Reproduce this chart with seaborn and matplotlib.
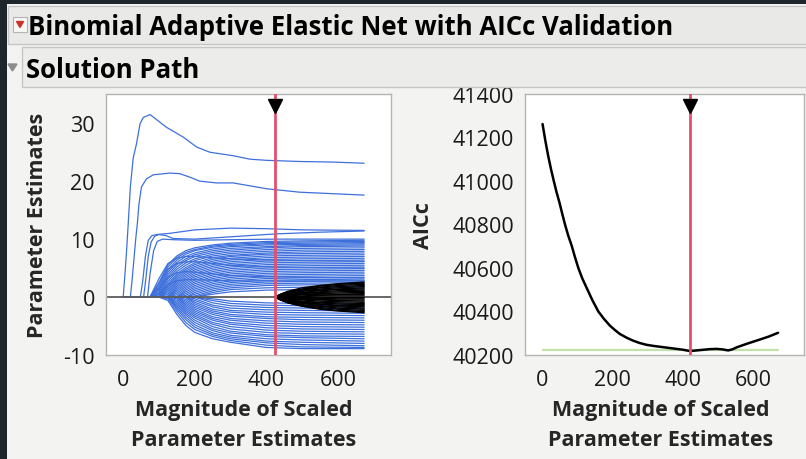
import numpy as np
import pandas as pd
import matplotlib
matplotlib.use("Agg")
import matplotlib.pyplot as plt
from matplotlib.patches import Rectangle, Polygon
import seaborn as sns

# ------------------------------------------------------------------
# Data (solution path + AICc curve)
# ------------------------------------------------------------------
# the few early-entering terms, each on its own x grid
LEAD_X = [
    [0, 5, 10, 14, 20, 28, 37, 47, 56, 75, 121, 168, 205, 242, 307, 354, 400, 493, 586, 673],
    [20, 25, 30, 35, 40, 44, 51, 65, 84, 130, 158, 186, 214, 261, 307, 354, 400, 493, 673],
    [48, 55, 62, 70, 80, 95, 130, 200, 300, 400, 500, 673],
    [57, 63, 70, 78, 88, 100, 120, 140, 200, 300, 425, 550, 673],
    [68, 75, 85, 95, 110, 140, 200, 300, 425, 550, 673],
]
LEAD_Y = [
    [0, 4, 8.5, 12.6, 19, 24, 26.4, 29.9, 31.0, 31.5, 29.3, 27.6, 25.9, 25.0, 24.4, 23.8, 23.6, 23.4, 23.3, 23.1],
    [0, 3, 6.5, 10, 13, 16, 19, 20.4, 21.1, 21.4, 21.3, 20.7, 20.0, 19.7, 19.7, 19.2, 18.7, 18.1, 17.6],
    [0, 3, 7, 9.8, 10.6, 10.8, 11.0, 11.6, 11.9, 11.8, 11.6, 11.5],
    [0, 3, 7, 9.5, 10.5, 10.8, 10.6, 10.1, 10.0, 10.4, 10.9, 11.2, 11.4],
    [0, 4, 8, 9.6, 10.0, 9.9, 9.8, 9.9, 10.0, 10.0, 10.0],
]

# the main bundle of blue paths, shared x grid
BUNDLE_X = [0, 75, 100, 125, 150, 175, 200, 250, 300, 400, 500, 673]
BLUE_POS = [
    [0, 0, 2.5, 5.6, 7.1, 8.0, 8.5, 9.0, 9.3, 9.6, 9.7, 9.8],
    [0, 0, 2.2, 5.2, 6.8, 7.7, 8.2, 8.8, 9.1, 9.4, 9.5, 9.6],
    [0, 0, 1.8, 4.7, 6.4, 7.4, 8.0, 8.6, 8.9, 9.2, 9.3, 9.4],
    [0, 0, 1.5, 4.3, 6.0, 7.0, 7.6, 8.3, 8.7, 9.0, 9.1, 9.2],
    [0, 0, 1.2, 3.9, 5.6, 6.6, 7.3, 8.0, 8.4, 8.7, 8.9, 9.0],
    [0, 0, 0.9, 3.5, 5.2, 6.3, 7.0, 7.7, 8.1, 8.5, 8.7, 8.8],
    [0, 0, 0.6, 3.1, 4.8, 5.9, 6.6, 7.4, 7.8, 8.2, 8.4, 8.5],
    [0, 0, 0.4, 2.7, 4.4, 5.5, 6.3, 7.1, 7.5, 7.9, 8.1, 8.2],
    [0, 0, 0.2, 2.3, 4.0, 5.1, 5.9, 6.8, 7.2, 7.6, 7.8, 7.9],
    [0, 0, 0, 2.0, 3.7, 4.8, 5.6, 6.5, 7.0, 7.4, 7.5, 7.6],
    [0, 0, 0, 1.7, 3.4, 4.5, 5.3, 6.2, 6.7, 7.1, 7.2, 7.3],
    [0, 0, 0, 1.4, 3.1, 4.2, 5.0, 5.9, 6.4, 6.8, 6.9, 7.0],
    [0, 0, 0, 1.1, 2.8, 3.9, 4.7, 5.6, 6.1, 6.5, 6.6, 6.7],
    [0, 0, 0, 0.8, 2.5, 3.6, 4.4, 5.3, 5.8, 6.2, 6.3, 6.4],
    [0, 0, 0, 0.5, 2.2, 3.3, 4.1, 5.0, 5.5, 5.9, 6.0, 6.1],
    [0, 0, 0, 0.2, 1.9, 3.0, 3.8, 4.7, 5.2, 5.6, 5.7, 5.8],
    [0, 0, 0, 0, 1.6, 2.7, 3.5, 4.4, 4.9, 5.3, 5.4, 5.5],
    [0, 0, 0, 0, 1.3, 2.4, 3.2, 4.1, 4.6, 5.0, 5.1, 5.2],
    [0, 0, 0, 0, 1.0, 2.1, 2.9, 3.8, 4.3, 4.7, 4.8, 4.9],
    [0, 0, 0, 0, 0.7, 1.8, 2.6, 3.5, 4.0, 4.4, 4.5, 4.6],
    [0, 0, 0, 0, 0.4, 1.5, 2.3, 3.2, 3.7, 4.1, 4.2, 4.3],
    [0, 0, 0, 0, 0.1, 1.2, 2.0, 2.9, 3.4, 3.8, 3.9, 4.0],
    [0, 0, 0, 0, 0, 0.9, 1.7, 2.6, 3.1, 3.5, 3.6, 3.7],
    [0, 0, 0, 0, 0, 0.6, 1.4, 2.3, 2.8, 3.2, 3.3, 3.4],
    [0, 0, 0, 0, 0, 0.3, 1.1, 2.0, 2.5, 2.9, 3.0, 3.1],
    [0, 0, 0, 0, 0, 0, 0.8, 1.7, 2.2, 2.6, 2.7, 2.8],
    [0, 0, 0, 0, 0, 0, 0.5, 1.4, 1.9, 2.3, 2.4, 2.5],
    [0, 0, 0, 0, 0, 0, 0.2, 1.1, 1.6, 2.0, 2.1, 2.2],
    [0, 0, 0, 0, 0, 0, 0, 0.8, 1.3, 1.6, 1.7, 1.8],
    [0, 0, 0, 0, 0, 0, 0, 0.5, 0.9, 1.2, 1.3, 1.4],
    [0, 0, 3.2, 5.8, 6.7, 7.0, 7.0, 6.8, 6.6, 6.4, 6.3, 6.2],
    [0, 0, 2.4, 4.8, 5.8, 6.1, 6.1, 5.8, 5.5, 5.2, 5.1, 5.0],
    [0, 0, 1.5, 3.4, 4.2, 4.4, 4.3, 4.0, 3.7, 3.5, 3.4, 3.3],
    [0, 0, 0.6, 2.2, 2.8, 3.0, 3.0, 2.9, 2.8, 2.8, 2.8, 2.8],
]
BLUE_NEG = [
    [0, 0, 0, -0.6, -3.0, -4.9, -6.1, -7.2, -7.8, -8.7, -8.9, -8.9],
    [0, 0, 0, -0.3, -2.5, -4.4, -5.6, -6.8, -7.5, -8.3, -8.6, -8.7],
    [0, 0, 0, 0, -2.1, -3.9, -5.2, -6.5, -7.2, -7.9, -8.2, -8.4],
    [0, 0, 0, 0, -1.8, -3.5, -4.8, -6.2, -6.9, -7.6, -7.8, -8.0],
    [0, 0, 0, 0, -1.5, -3.1, -4.4, -5.8, -6.6, -7.2, -7.4, -7.6],
    [0, 0, 0, 0, -1.2, -2.8, -4.0, -5.5, -6.2, -6.8, -7.0, -7.2],
    [0, 0, 0, 0, -0.9, -2.5, -3.6, -5.1, -5.9, -6.5, -6.7, -6.8],
    [0, 0, 0, 0, -0.6, -2.2, -3.3, -4.7, -5.5, -6.1, -6.3, -6.4],
    [0, 0, 0, 0, -0.3, -1.9, -3.0, -4.4, -5.1, -5.7, -5.9, -6.0],
    [0, 0, 0, 0, 0, -1.6, -2.7, -4.0, -4.7, -5.3, -5.5, -5.6],
    [0, 0, 0, 0, 0, -1.3, -2.4, -3.7, -4.4, -4.9, -5.1, -5.2],
    [0, 0, 0, 0, 0, -1.0, -2.1, -3.4, -4.0, -4.5, -4.7, -4.8],
    [0, 0, 0, 0, 0, -0.7, -1.8, -3.0, -3.7, -4.1, -4.3, -4.4],
    [0, 0, 0, 0, 0, -0.4, -1.5, -2.7, -3.3, -3.7, -3.9, -4.0],
    [0, 0, 0, 0, 0, -0.1, -1.2, -2.4, -3.0, -3.4, -3.5, -3.6],
    [0, 0, 0, 0, 0, 0, -0.9, -2.1, -2.6, -3.0, -3.1, -3.2],
    [0, 0, 0, 0, 0, 0, -0.6, -1.7, -2.3, -2.6, -2.7, -2.8],
    [0, 0, 0, 0, 0, 0, -0.3, -1.4, -1.9, -2.2, -2.3, -2.4],
    [0, 0, 0, 0, 0, 0, 0, -1.0, -1.5, -1.8, -1.9, -2.0],
    [0, 0, 0, 0, 0, 0, 0, -0.6, -1.1, -1.4, -1.5, -1.6],
    [0, 0, 0, 0, 0, 0, 0, -0.3, -0.7, -1.0, -1.1, -1.2],
]

# terms that are zero in the chosen model (black fan right of the red line)
BLACK_X = [424, 440, 460, 500, 550, 600, 673]
BLACK_PATHS = [
    [0, 0.5, 1.0, 1.6, 2.0, 2.3, 2.6],
    [0, 0.5, 0.9, 1.4, 1.9, 2.2, 2.4],
    [0, 0.4, 0.8, 1.3, 1.7, 2.0, 2.2],
    [0, 0.4, 0.8, 1.2, 1.6, 1.8, 2.0],
    [0, 0.4, 0.7, 1.1, 1.4, 1.6, 1.8],
    [0, 0.3, 0.6, 1.0, 1.2, 1.4, 1.6],
    [0, 0.3, 0.5, 0.8, 1.1, 1.3, 1.4],
    [0, 0.2, 0.5, 0.7, 0.9, 1.1, 1.2],
    [0, 0.2, 0.4, 0.6, 0.8, 0.9, 1.0],
    [0, 0.2, 0.3, 0.5, 0.6, 0.7, 0.8],
    [0, 0.1, 0.2, 0.4, 0.5, 0.5, 0.6],
    [0, 0.1, 0.2, 0.2, 0.3, 0.4, 0.4],
    [0, 0.0, 0.1, 0.1, 0.2, 0.2, 0.2],
    [0, 0, 0, -0.1, -0.1, -0.1, -0.1],
    [0, -0.1, -0.1, -0.2, -0.2, -0.3, -0.3],
    [0, -0.1, -0.2, -0.3, -0.4, -0.5, -0.5],
    [0, -0.1, -0.3, -0.4, -0.5, -0.6, -0.7],
    [0, -0.2, -0.3, -0.5, -0.7, -0.8, -0.9],
    [0, -0.2, -0.4, -0.7, -0.9, -1.0, -1.1],
    [0, -0.3, -0.5, -0.8, -1.0, -1.2, -1.3],
    [0, -0.3, -0.6, -0.9, -1.2, -1.4, -1.5],
    [0, -0.3, -0.6, -1.0, -1.3, -1.5, -1.7],
    [0, -0.4, -0.7, -1.1, -1.5, -1.7, -1.9],
    [0, -0.4, -0.8, -1.3, -1.6, -1.9, -2.1],
    [0, -0.5, -0.9, -1.4, -1.8, -2.1, -2.3],
    [0, -0.5, -1.0, -1.5, -2.0, -2.3, -2.5],
    [0, -0.5, -1.0, -1.6, -2.1, -2.4, -2.7],
]

AICC_X = [0, 8, 16, 24, 32, 40, 48, 56, 64, 73, 83, 92, 102, 113, 125, 142, 159,
          175, 192, 206, 220, 239, 258, 277, 296, 315, 334, 358, 382, 401, 420,
          439, 458, 477, 496, 512, 529, 541, 553, 567, 581, 600, 619, 645, 671]
AICC_Y = [41262, 41185, 41116, 41055, 41000, 40948, 40902, 40850, 40800, 40750,
          40703, 40652, 40600, 40553, 40511, 40452, 40400, 40366, 40335, 40315,
          40297, 40280, 40266, 40255, 40247, 40242, 40238, 40233, 40228, 40224,
          40218, 40221, 40224, 40227, 40228, 40226, 40221, 40226, 40235, 40243,
          40251, 40261, 40271, 40285, 40302]
AICC_MIN_BAND = 40224
SELECTED_LEFT = 424
SELECTED_RIGHT = 420

TITLE = "Binomial Adaptive Elastic Net with AICc Validation"
SUBTITLE = "Solution Path"
XLABEL = "Magnitude of Scaled\nParameter Estimates"

BLUE = "#3e70dc"
RED = "#e2506b"
SPINE = "#b4b4b4"

# ------------------------------------------------------------------
W, H = 806, 460
def fx(px):
    return px / W
def fy(py):
    return 1 - py / H

def long_frame(xs, paths, tag):
    return pd.concat([pd.DataFrame({"x": xs, "y": p, "path": f"{tag}{i}"})
                      for i, p in enumerate(paths)], ignore_index=True)

sns.set_style("white")
plt.rcParams["font.family"] = ["Open Sans", "DejaVu Sans"]

blue_df = pd.concat(
    [long_frame(BUNDLE_X, BLUE_POS, "p"), long_frame(BUNDLE_X, BLUE_NEG, "n")]
    + [pd.DataFrame({"x": x, "y": y, "path": f"lead{i}"})
       for i, (x, y) in enumerate(zip(LEAD_X, LEAD_Y))],
    ignore_index=True)
black_df = long_frame(BLACK_X, BLACK_PATHS, "b")
aicc_df = pd.DataFrame({"x": AICC_X, "y": AICC_Y})

fig = plt.figure(figsize=(W / 100, H / 100), dpi=100)
fig.patch.set_facecolor("#f3f3f1")

ax1 = fig.add_axes([fx(106), fy(356), (391 - 106) / W, (356 - 95) / H])
ax2 = fig.add_axes([fx(525), fy(356), (804 - 525) / W, (356 - 95) / H])

# ---- left: parameter paths ----
sns.lineplot(data=blue_df, x="x", y="y", units="path", estimator=None,
             color=BLUE, lw=0.9, ax=ax1, zorder=2)
ax1.axhline(0, color="#5c5c5c", lw=1.3, zorder=2.5)
sns.lineplot(data=black_df, x="x", y="y", units="path", estimator=None,
             color="black", lw=1.0, ax=ax1, zorder=3)
ax1.axvline(SELECTED_LEFT, color=RED, lw=2.0, zorder=4)
ax1.plot(SELECTED_LEFT, 33.0, marker="v", color="black", ms=10, zorder=5, clip_on=False)

ax1.set_xlim(-48, 748)
ax1.set_ylim(-10, 35.05)
ax1.set_xticks(range(0, 701, 100))
ax1.set_xticklabels(["0", "", "200", "", "400", "", "600", ""])
ax1.set_yticks(range(-10, 31, 5))
ax1.set_yticklabels(["-10", "", "0", "", "10", "", "20", "", "30"])
ax1.set_ylabel("Parameter Estimates", fontsize=15.5, fontweight="bold")
ax1.yaxis.set_label_coords((48 - 106) / 285, 0.5)

# ---- right: AICc ----
ax2.plot([AICC_X[0], AICC_X[-1]], [AICC_MIN_BAND, AICC_MIN_BAND],
         color="#c3e0ad", lw=1.6, zorder=1)
sns.lineplot(data=aicc_df, x="x", y="y", color="black", lw=1.8, ax=ax2, zorder=2)
ax2.axvline(SELECTED_RIGHT, color=RED, lw=2.0, zorder=4)
ax2.plot(SELECTED_RIGHT, 41346, marker="v", color="black", ms=10, zorder=5, clip_on=False)

ax2.set_xlim(-50, 745)
ax2.set_ylim(40200, 41400)
ax2.set_xticks(range(0, 701, 100))
ax2.set_xticklabels(["0", "", "200", "", "400", "", "600", ""])
ax2.set_yticks(range(40200, 41401, 200))
ax2.set_ylabel("AICc", fontsize=15.5, fontweight="bold")
ax2.yaxis.set_label_coords((434 - 525) / 279, 0.5)

for ax, cx in [(ax1, (244 - 106) / 285), (ax2, (661 - 525) / 279)]:
    ax.set_facecolor("white")
    for s in ax.spines.values():
        s.set_color(SPINE)
        s.set_linewidth(1.0)
    ax.tick_params(direction="out", length=5, width=0.8, color="#9a9a9a",
                   labelsize=15.5, labelcolor="#1a1a1a")
    ax.tick_params(axis="x", pad=5)
    ax.tick_params(axis="y", pad=3)
    ax.set_xlabel(XLABEL, fontsize=15.5, fontweight="bold", linespacing=1.55)
    ax.xaxis.set_label_coords(cx, -0.17)
    ax.xaxis.label.set_va("top")

# ---- JMP-style report frame ----
def rect(x0, y0, x1, y1, **kw):
    fig.patches.append(Rectangle((fx(x0), fy(y1)), (x1 - x0) / W, (y1 - y0) / H,
                                 transform=fig.transFigure, **kw))

def tri(pts, color):
    fig.patches.append(Polygon([(fx(a), fy(b)) for a, b in pts], closed=True,
                               transform=fig.transFigure, color=color, zorder=3))

rect(22, 48, 812, 88, facecolor="#ececea", edgecolor="#c6c6c4", lw=1, zorder=1)
rect(8, 7, 812, 45, facecolor="#e9e9e7", edgecolor="#c6c6c4", lw=1, zorder=1)
rect(0, 0, 7, 460, facecolor="#1e252b", edgecolor="none", zorder=2)
rect(0, 0, 806, 5, facecolor="#1e252b", edgecolor="none", zorder=2)
rect(13, 18, 27, 33, facecolor="#f7f7f6", edgecolor="#b3b3b3", lw=0.8, zorder=2)
tri([(16.5, 22.5), (23.5, 22.5), (20, 28.5)], "#d0302a")
tri([(8, 65), (17, 65), (12.5, 72)], "#8c8c8c")

fig.text(fx(28), fy(35), TITLE, fontsize=18.5, fontweight="bold", va="baseline",
         ha="left", color="black", zorder=4)
fig.text(fx(26), fy(78), SUBTITLE, fontsize=18.5, fontweight="bold", va="baseline",
         ha="left", color="black", zorder=4)

fig.savefig("out.png", dpi=100, facecolor=fig.get_facecolor())
